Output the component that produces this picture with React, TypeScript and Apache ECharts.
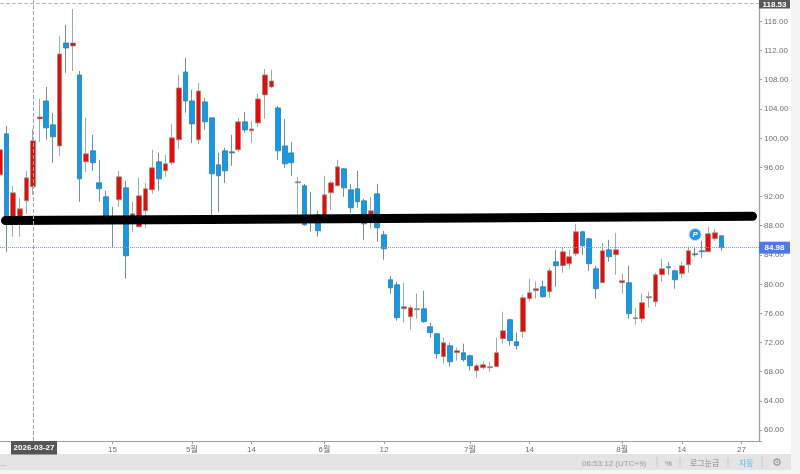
import React, { useEffect, useRef } from "react";
import * as echarts from "echarts";

const opens = [94.96,100.58,88.53,88.66,91.40,93.32,102.63,105.09,101.81,98.93,113.03,112.62,108.65,96.74,98.25,93.87,91.95,88.94,91.54,93.18,88.53,87.84,90.03,92.91,96.74,95.51,96.61,99.76,109.06,105.09,99.76,104.96,102.77,96.33,98.25,98.11,98.39,102.22,100.99,102.08,105.91,107.01,104.13,98.93,97.97,93.87,93.46,89.08,89.49,89.21,92.50,93.46,95.78,92.91,93.05,91.40,89.35,92.36,86.75,80.59,79.90,76.62,75.52,76.48,76.62,74.15,73.20,70.05,71.55,70.59,70.59,70.18,68.13,68.54,68.54,68.68,72.51,75.11,72.10,73.47,77.99,79.08,79.63,78.95,83.05,82.51,82.78,84.15,87.16,86.20,82.09,80.18,84.69,84.01,80.18,80.18,75.25,75.25,78.12,77.58,81.27,82.37,81.82,81.41,82.64,84.15,84.56,84.42,86.20,86.61];
const closes = [98.39,88.53,92.50,90.31,94.55,99.62,102.90,101.40,100.17,111.53,112.35,113.03,94.41,97.84,96.61,93.05,88.80,88.66,94.69,83.87,89.62,92.09,93.05,95.92,94.41,96.47,100.03,106.87,105.09,101.94,106.46,102.22,95.10,94.83,95.51,97.97,102.22,101.12,101.26,105.37,108.65,107.83,98.25,96.47,96.61,94.00,88.12,88.53,87.30,92.22,93.87,96.06,93.18,90.44,91.27,88.25,90.03,87.71,84.83,79.49,75.39,76.89,76.76,76.62,74.84,73.33,70.46,71.96,69.36,70.87,69.64,68.81,68.81,68.95,68.68,70.59,73.61,72.24,71.55,78.12,78.81,79.36,78.26,81.82,82.51,84.42,83.74,87.16,85.24,82.78,79.36,84.56,83.74,84.69,80.45,75.93,75.39,77.44,78.26,81.27,82.09,82.23,80.59,82.51,84.56,84.01,84.42,86.89,87.02,84.98];
const lows = [93.46,84.42,86.48,86.48,89.62,92.22,99.48,99.76,96.61,97.56,108.93,109.20,91.27,95.37,95.51,91.27,88.25,84.97,90.58,80.72,87.16,87.84,87.71,92.36,92.77,94.69,96.33,98.52,103.45,99.34,99.21,101.12,89.21,89.90,93.87,96.19,98.11,100.71,99.34,101.53,102.63,106.87,97.02,95.92,94.83,89.49,87.98,87.16,86.48,88.80,90.17,93.46,91.95,89.76,90.44,86.06,87.57,85.79,83.33,78.67,74.97,74.70,73.74,75.25,74.70,72.65,69.77,69.09,68.68,69.50,69.36,68.13,67.17,68.27,67.99,68.68,71.83,71.55,71.01,72.65,77.58,77.99,78.12,78.12,79.63,81.55,82.09,83.87,84.01,81.82,77.99,80.18,83.05,81.27,78.67,75.25,74.43,74.70,76.76,76.89,80.31,81.27,79.36,80.86,81.55,83.74,83.60,84.42,85.93,84.56];
const highs = [99.76,101.67,93.46,91.81,95.51,101.26,105.37,107.01,103.45,113.99,115.50,117.69,109.20,102.77,100.44,97.02,92.77,90.58,95.51,94.14,91.27,94.55,93.87,98.39,97.97,97.70,101.94,108.65,110.98,106.60,107.56,105.50,102.77,97.97,98.66,100.44,102.77,103.59,102.36,106.05,109.47,109.34,104.41,102.63,99.48,94.69,93.73,92.64,90.03,94.83,94.14,97.02,95.92,93.73,95.51,91.68,91.95,93.73,87.30,81.14,80.31,80.18,77.03,78.67,79.08,74.70,73.33,72.65,71.96,71.28,71.83,70.32,69.09,69.36,69.36,72.65,76.21,75.25,73.33,78.53,80.72,80.31,80.45,82.23,84.69,85.11,84.69,88.25,87.30,86.34,82.51,85.65,86.06,87.02,81.41,82.51,76.76,78.67,78.95,81.55,83.46,83.05,81.96,83.05,85.11,85.11,85.93,87.84,87.57,86.61];

const slotCount = 116;
const xTickIndexes = [17, 29, 38, 49, 58, 71, 80, 94, 103, 112];
const xTickLabels = ["15", "5월", "14", "6월", "12", "7월", "14", "8월", "14", "27"];
const yTickValues = [60, 64, 68, 72, 76, 80, 84, 88, 92, 96, 100, 104, 108, 112, 116];

const trendSlots = [0.83, 113.67];
const trendPrices = [88.69, 89.28];

const lastPrice = 84.98;
const highPrice = 118.53;
const cursorIndex = 5;
const cursorDate = "2026-03-27";
const pinIndex = 105;
const pinPrice = 86.78;

const categories = Array.from({ length: slotCount }, (_, i) => {
  const k = xTickIndexes.indexOf(i);
  return k >= 0 ? xTickLabels[k] : "";
});
const candles = opens.map((o, i) => [o, closes[i], lows[i], highs[i]]);

const FONT = "'Liberation Sans', 'Noto Sans CJK KR', sans-serif";
const GREY = "#6e6e6e";

function priceTag(value: number, bg: string, h: number, dy: number) {
  return {
    show: true,
    position: "end",
    distance: 13.2,
    offset: [0, dy],
    formatter: value.toFixed(2),
    color: "#fff",
    backgroundColor: bg,
    fontFamily: FONT,
    fontSize: 8,
    fontWeight: "bold",
    width: 31,
    height: h,
    lineHeight: h,
    align: "center",
  };
}

export default function App() {
  const ref = useRef<HTMLDivElement>(null);
  useEffect(() => {
    const chart = echarts.init(ref.current!, undefined, { renderer: "svg" });
    const barTexts: [string, number, string][] = [
      ["...", 0, "#888"],
      ["06:53:12 (UTC+9)", 582, "#9a9a9a"],
      ["%", 665, "#8a8a8a"],
      ["로그눈금", 690, "#8a8a8a"],
      ["자동", 739, "#5bb8ea"],
    ];
    const separators = [657, 680, 728, 762];
    chart.setOption({
      animation: false,
      backgroundColor: "#fff",
      grid: { left: 0, top: 0, width: 761.3, height: 441, containLabel: false },
      xAxis: [
        {
          type: "category",
          data: categories,
          boundaryGap: false,
          axisLine: { onZero: false, lineStyle: { color: "#a0a0a0", width: 1 } },
          axisTick: {
            length: 3,
            lineStyle: { color: "#a0a0a0" },
            interval: (i: number) => xTickIndexes.includes(i),
          },
          axisLabel: {
            interval: (i: number) => xTickIndexes.includes(i),
            color: GREY,
            fontFamily: FONT,
            fontSize: 8,
            margin: 4,
          },
          splitLine: { show: false },
        },
        { type: "value", min: 0, max: slotCount - 1, show: false, splitLine: { show: false } },
      ],
      yAxis: {
        type: "value",
        position: "right",
        offset: -2.3,
        min: 58.49,
        max: 118.92,
        axisLine: { show: true, onZero: false, lineStyle: { color: "#a0a0a0", width: 1.3 } },
        axisTick: { show: true, length: 3, lineStyle: { color: "#a0a0a0" }, customValues: yTickValues },
        axisLabel: {
          customValues: yTickValues,
          formatter: (v: number) => v.toFixed(2),
          color: GREY,
          fontFamily: FONT,
          fontSize: 8,
          margin: 5,
        },
        splitLine: { show: false },
      },
      series: [
        {
          type: "candlestick",
          data: candles,
          barWidth: 5.2,
          z: 2,
          itemStyle: {
            color: "#ff0000",
            color0: "#0a9cf5",
            borderColor: "#7d9a8e",
            borderColor0: "#3f7a96",
            borderWidth: 0.8,
          },
          markLine: {
            silent: true,
            symbol: ["none", "none"],
            animation: false,
            data: [
              {
                yAxis: lastPrice,
                lineStyle: { color: "#7f9cf0", type: "dotted", width: 1 },
                label: priceTag(lastPrice, "#4f78e3", 12, 0),
              },
              {
                yAxis: highPrice,
                lineStyle: { color: "#b8b8b8", type: "dashed", width: 1 },
                label: priceTag(highPrice, "#5a5a5a", 8.5, 1.4),
              },
              {
                xAxis: cursorIndex,
                lineStyle: { color: "#a8a8a8", type: "dashed", width: 1 },
                label: { show: false },
              },
            ],
          },
          markPoint: {
            silent: true,
            animation: false,
            data: [
              {
                coord: [pinIndex, pinPrice],
                symbol: "circle",
                symbolSize: 12,
                itemStyle: { color: "#1e96f0", borderColor: "#bfe0fa", borderWidth: 1 },
                label: {
                  show: true,
                  position: "inside",
                  formatter: "P",
                  color: "#fff",
                  fontFamily: FONT,
                  fontSize: 8,
                  fontWeight: "bold",
                  fontStyle: "italic",
                },
              },
            ],
          },
        },
        {
          type: "line",
          xAxisIndex: 1,
          data: trendSlots.map((s, i) => [s, trendPrices[i]]),
          symbol: "none",
          z: 3,
          lineStyle: { color: "#000", width: 9, cap: "round" },
        },
      ],
      graphic: [
        { type: "rect", z: 100, shape: { x: 11, y: 441, width: 46, height: 13.5 }, style: { fill: "#555" } },
        {
          type: "text",
          z: 101,
          x: 34,
          y: 447.8,
          style: { text: cursorDate, fill: "#fff", font: `bold 8px ${FONT}`, align: "center", verticalAlign: "middle" },
        },
        { type: "rect", z: 90, shape: { x: 0, y: 454, width: 791, height: 16 }, style: { fill: "#e4e4e6" } },
        { type: "rect", z: 90, shape: { x: 791, y: 0, width: 9, height: 474 }, style: { fill: "#f4f4f5" } },
        { type: "rect", z: 90, shape: { x: 0, y: 470, width: 800, height: 4 }, style: { fill: "#f4f4f5" } },
        ...barTexts.map(([text, x, fill]) => ({
          type: "text",
          z: 101,
          x,
          y: 463,
          style: { text, fill, font: `8px ${FONT}`, verticalAlign: "middle" },
        })),
        ...separators.map((x) => ({
          type: "line",
          z: 101,
          shape: { x1: x, y1: 457, x2: x, y2: 467 },
          style: { stroke: "#c8c8c8", lineWidth: 1 },
        })),
        {
          type: "text",
          z: 101,
          x: 777,
          y: 462.5,
          style: { text: "⚙", fill: "#8f8f8f", font: "11px 'DejaVu Sans'", align: "center", verticalAlign: "middle" },
        },
      ],
    });
    return () => chart.dispose();
  }, []);
  return <div ref={ref} style={{ position: "absolute", left: 0, top: 0, width: 800, height: 474, filter: "blur(0.3px)" }} />;
}
